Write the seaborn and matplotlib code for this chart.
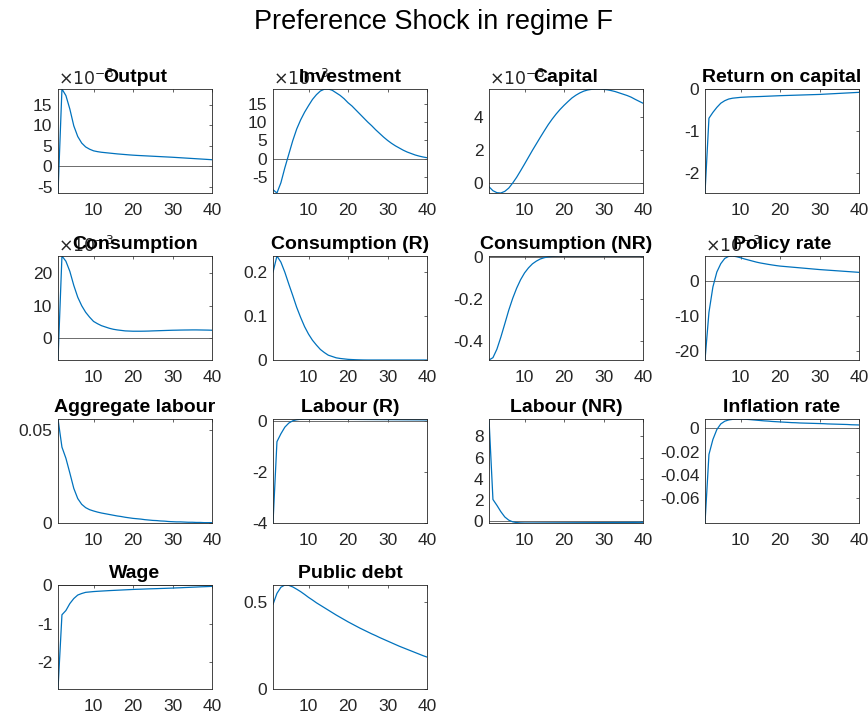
import numpy as np
import pandas as pd
import matplotlib
matplotlib.use("Agg")
import matplotlib.pyplot as plt
from matplotlib.ticker import FuncFormatter
import seaborn as sns

sns.set_style("white")
plt.rcParams["font.family"] = ["Liberation Sans", "DejaVu Sans"]
plt.rcParams["axes.unicode_minus"] = False

periods = list(range(1, 41))

# values shown in units of 1e-3 where the panel carries a x10^-3 multiplier
output_e3 = [-6.5, 18.9, 17.3, 14.0, 9.9, 7.3, 5.7, 4.75, 4.2, 3.8,
             3.6, 3.45, 3.35, 3.25, 3.15, 3.05, 2.97, 2.89, 2.81, 2.74,
             2.68, 2.63, 2.58, 2.53, 2.48, 2.43, 2.38, 2.33, 2.28, 2.23,
             2.17, 2.11, 2.05, 1.99, 1.93, 1.87, 1.81, 1.75, 1.69, 1.63]
investment_e3 = [-8.5, -9.4, -6.6, -2.5, 1.2, 4.9, 8.1, 10.6, 12.7, 14.5,
                 16.2, 17.5, 18.5, 19.0, 19.05, 18.7, 18.0, 17.3, 16.4, 15.3,
                 14.4, 13.3, 12.2, 11.1, 10.0, 9.0, 7.9, 6.9, 5.9, 5.0,
                 4.2, 3.5, 2.9, 2.3, 1.8, 1.4, 1.0, 0.7, 0.45, 0.25]
capital_e3 = [-0.25, -0.49, -0.61, -0.63, -0.53, -0.33, -0.02, 0.33, 0.73, 1.14,
              1.56, 1.98, 2.38, 2.78, 3.17, 3.55, 3.89, 4.2, 4.48, 4.73,
              4.96, 5.18, 5.35, 5.49, 5.6, 5.67, 5.71, 5.73, 5.73, 5.71,
              5.68, 5.63, 5.57, 5.49, 5.41, 5.33, 5.23, 5.1, 4.98, 4.86]
return_capital = [-2.49, -0.70, -0.56, -0.44, -0.34, -0.28, -0.24, -0.22, -0.21, -0.20,
                  -0.195, -0.19, -0.186, -0.183, -0.18, -0.176, -0.172, -0.168, -0.164, -0.16,
                  -0.157, -0.154, -0.151, -0.148, -0.145, -0.142, -0.139, -0.136, -0.133, -0.13,
                  -0.125, -0.12, -0.115, -0.11, -0.105, -0.1, -0.095, -0.09, -0.085, -0.08]
consumption_e3 = [-6.6, 25.2, 23.6, 20.5, 16.2, 12.6, 10.0, 8.0, 6.5, 5.2,
                  4.5, 3.9, 3.5, 3.1, 2.8, 2.6, 2.45, 2.3, 2.25, 2.2,
                  2.2, 2.2, 2.22, 2.25, 2.3, 2.34, 2.38, 2.42, 2.46, 2.5,
                  2.52, 2.55, 2.57, 2.58, 2.6, 2.6, 2.58, 2.56, 2.54, 2.5]
consumption_r = [0.2, 0.237, 0.223, 0.2, 0.173, 0.147, 0.12, 0.097, 0.076, 0.059,
                 0.045, 0.034, 0.024, 0.017, 0.011, 0.008, 0.005, 0.0035, 0.0025, 0.0015,
                 0.001, 0.0006, 0.0003, 0.0001, 0.0, 0.0, 0.0, 0.0, 0.0, 0.0,
                 0.0, 0.0, 0.0, 0.0, 0.0, 0.0, 0.0, 0.0, 0.0, 0.0]
consumption_nr = [-0.488, -0.477, -0.437, -0.38, -0.317, -0.253, -0.197, -0.149, -0.109, -0.077,
                  -0.053, -0.034, -0.021, -0.011, -0.005, -0.001, 0.001, 0.002, 0.003, 0.003,
                  0.003, 0.003, 0.003, 0.003, 0.003, 0.003, 0.003, 0.003, 0.003, 0.003,
                  0.003, 0.003, 0.003, 0.003, 0.003, 0.003, 0.003, 0.003, 0.003, 0.003]
policy_rate_e3 = [-22.6, -8.9, -1.6, 2.7, 5.1, 6.6, 7.2, 7.3, 7.1, 6.8,
                  6.45, 6.15, 5.85, 5.55, 5.3, 5.1, 4.9, 4.72, 4.55, 4.4,
                  4.3, 4.2, 4.1, 4.0, 3.9, 3.8, 3.7, 3.6, 3.5, 3.4,
                  3.32, 3.24, 3.16, 3.08, 3.0, 2.92, 2.84, 2.76, 2.68, 2.6]
aggregate_labour = [0.0562, 0.041, 0.035, 0.027, 0.0187, 0.0132, 0.0101, 0.0083, 0.0072, 0.0065,
                    0.0059, 0.0054, 0.005, 0.0046, 0.0042, 0.0038, 0.0035, 0.0031, 0.0028, 0.0025,
                    0.0023, 0.0021, 0.0018, 0.0016, 0.0014, 0.0013, 0.0011, 0.001, 0.0008, 0.0007,
                    0.0006, 0.0006, 0.0005, 0.0004, 0.0004, 0.0003, 0.0003, 0.0002, 0.0002, 0.0002]
labour_r = [-4.0, -0.81, -0.5, -0.24, -0.08, 0.01, 0.05, 0.07, 0.078, 0.08,
            0.078, 0.076, 0.074, 0.072, 0.07, 0.069, 0.068, 0.067, 0.066, 0.065,
            0.064, 0.063, 0.062, 0.061, 0.06, 0.059, 0.058, 0.057, 0.056, 0.055,
            0.054, 0.053, 0.052, 0.051, 0.05, 0.049, 0.048, 0.047, 0.046, 0.045]
labour_nr = [9.65, 2.05, 1.5, 0.9, 0.4, 0.1, -0.06, -0.13, -0.16, -0.17,
             -0.17, -0.17, -0.168, -0.166, -0.164, -0.162, -0.16, -0.158, -0.156, -0.154,
             -0.152, -0.15, -0.148, -0.146, -0.144, -0.142, -0.14, -0.138, -0.136, -0.134,
             -0.131, -0.128, -0.125, -0.122, -0.119, -0.116, -0.113, -0.11, -0.107, -0.104]
inflation_rate = [-0.081, -0.0224, -0.0096, -0.0011, 0.0037, 0.006, 0.0071, 0.0076, 0.0079, 0.0079,
                  0.0077, 0.0075, 0.0072, 0.0069, 0.0066, 0.0063, 0.0061, 0.0058, 0.0056, 0.0054,
                  0.0052, 0.005, 0.0048, 0.0047, 0.0045, 0.0044, 0.0043, 0.0042, 0.0041, 0.004,
                  0.0039, 0.0037, 0.0036, 0.0035, 0.0034, 0.0033, 0.0032, 0.003, 0.0029, 0.0028]
wage = [-2.69, -0.77, -0.66, -0.48, -0.35, -0.26, -0.22, -0.19, -0.18, -0.17,
        -0.163, -0.157, -0.151, -0.145, -0.14, -0.135, -0.13, -0.125, -0.12, -0.115,
        -0.111, -0.108, -0.104, -0.1, -0.097, -0.094, -0.09, -0.087, -0.083, -0.08,
        -0.075, -0.071, -0.066, -0.062, -0.057, -0.053, -0.048, -0.044, -0.04, -0.035]
public_debt = [0.485, 0.548, 0.583, 0.596, 0.594, 0.585, 0.572, 0.558, 0.542, 0.525,
               0.51, 0.494, 0.48, 0.466, 0.452, 0.438, 0.424, 0.411, 0.398, 0.385,
               0.373, 0.361, 0.349, 0.338, 0.327, 0.316, 0.306, 0.295, 0.285, 0.275,
               0.265, 0.255, 0.245, 0.236, 0.227, 0.218, 0.209, 0.2, 0.191, 0.183]

titles = ["Output", "Investment", "Capital", "Return on capital",
          "Consumption", "Consumption (R)", "Consumption (NR)", "Policy rate",
          "Aggregate labour", "Labour (R)", "Labour (NR)", "Inflation rate",
          "Wage", "Public debt"]
series = [output_e3, investment_e3, capital_e3, return_capital,
          consumption_e3, consumption_r, consumption_nr, policy_rate_e3,
          aggregate_labour, labour_r, labour_nr, inflation_rate,
          wage, public_debt]
scaled = [True, True, True, False,
          True, False, False, True,
          False, False, False, False,
          False, False]
yticks = [[-5, 0, 5, 10, 15], [-5, 0, 5, 10, 15], [0, 2, 4], [-2, -1, 0],
          [0, 10, 20], [0, 0.1, 0.2], [-0.4, -0.2, 0], [-20, -10, 0],
          [0, 0.05], [-4, -2, 0], [0, 2, 4, 6, 8], [-0.06, -0.04, -0.02, 0],
          [-2, -1, 0], [0, 0.5]]
xticks = [10, 20, 30, 40]
suptitle = "Preference Shock in regime F"

W, H = 868, 719
fig = plt.figure(figsize=(W / 100, H / 100), dpi=100)
col_left = [58, 273, 489, 705]
row_top = [89, 256, 419, 585]
aw, ah = 154, 104
line_col = "#0072BD"
dark = "#262626"

for i, (title, vals) in enumerate(zip(titles, series)):
    r, c = divmod(i, 4)
    ax = fig.add_axes([col_left[c] / W, 1 - (row_top[r] + ah) / H, aw / W, ah / H])
    v = np.array(vals, dtype=float)
    scale = 1e-3 if scaled[i] else 1.0
    df = pd.DataFrame({"period": periods, "value": v * scale})
    ax.axhline(0, color="#555555", lw=0.6, zorder=1)
    sns.lineplot(data=df, x="period", y="value", ax=ax, color=line_col, lw=0.9, zorder=2)
    lo = min(df["value"].min(), 0)
    hi = max(df["value"].max(), 0)
    ax.set_ylim(lo, hi)
    ax.set_xlim(1, 40)
    ax.set_xticks(xticks)
    ax.set_yticks([t * scale for t in yticks[i]])
    ax.yaxis.set_major_formatter(FuncFormatter(lambda val, pos, s=scale: f"{round(val / s, 6):g}"))
    ax.xaxis.set_major_formatter(FuncFormatter(lambda val, pos: f"{val:g}"))
    ax.set_xlabel("")
    ax.set_ylabel("")
    ax.tick_params(direction="in", top=True, right=True, length=2.5, width=0.5,
                   labelsize=12.5, colors=dark)
    ax.tick_params(axis="x", pad=7)
    ax.tick_params(axis="y", pad=4)
    for sp in ax.spines.values():
        sp.set_color(dark)
        sp.set_linewidth(0.6)
    if scaled[i]:
        ax.text(0.0, 1.01, r"$\times10^{-3}$", transform=ax.transAxes, ha="left", va="bottom",
                fontsize=12.5, color=dark, zorder=1)
    ax.set_title(title, fontsize=14, fontweight="bold", pad=5, color="black")

fig.text(0.5, 1 - 22 / H, suptitle, ha="center", va="center", fontsize=19.5, color="black")

fig.savefig("out.png", dpi=100)
